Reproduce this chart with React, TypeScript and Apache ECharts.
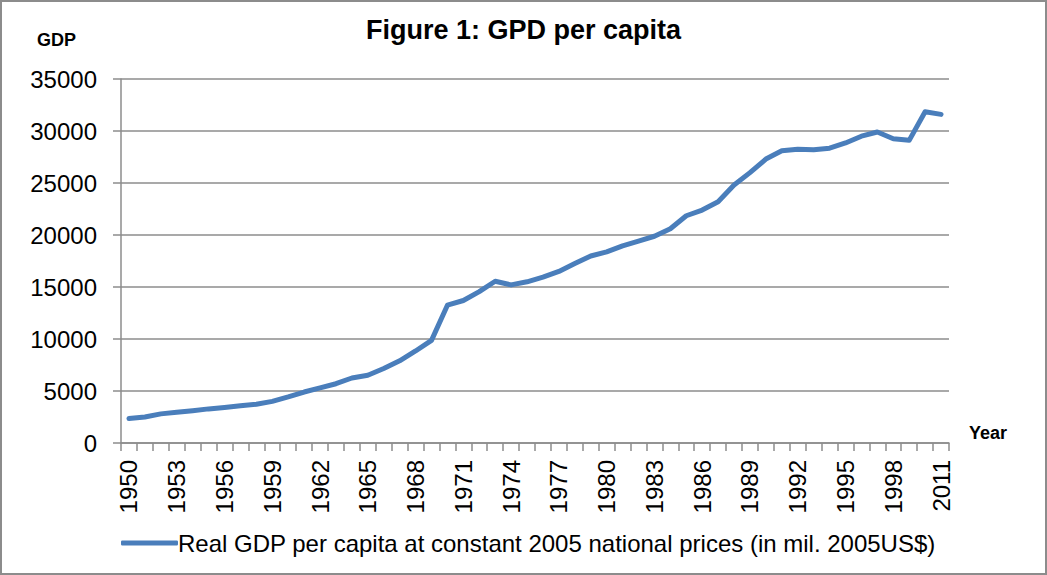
import React, { useEffect, useRef } from "react";
import * as echarts from "echarts";

const years: string[] = [
  "1950", "1951", "1952", "1953", "1954", "1955", "1956", "1957", "1958", "1959",
  "1960", "1961", "1962", "1963", "1964", "1965", "1966", "1967", "1968", "1969",
  "1970", "1971", "1972", "1973", "1974", "1975", "1976", "1977", "1978", "1979",
  "1980", "1981", "1982", "1983", "1984", "1985", "1986", "1987", "1988", "1989",
  "1990", "1991", "1992", "1993", "1994", "1995", "1996", "1997", "1998", "1999",
  "2010", "2011",
];

const gdpPerCapita: number[] = [
  2350, 2500, 2800, 2950, 3100, 3280, 3420, 3580, 3720, 4000,
  4430, 4900, 5300, 5700, 6250, 6520, 7160, 7900, 8850, 9870,
  13250, 13700, 14550, 15550, 15200, 15500, 15950, 16500, 17250, 17980,
  18380, 18950, 19420, 19880, 20600, 21850, 22400, 23200, 24800, 26000,
  27300, 28100, 28250, 28200, 28350, 28850, 29500, 29900, 29250, 29100,
  31850, 31600,
];

const seriesName = "Real GDP per capita at constant 2005 national prices (in mil. 2005US$)";
const titleText = "Figure 1: GPD per capita";
const yAxisTitle = "GDP";
const xAxisTitle = "Year";

const FONT = "'Liberation Sans', Arial, sans-serif";
const GRID_COLOR = "#8c8c8c";
const LINE_COLOR = "#4a7ebb";

export default function App() {
  const ref = useRef<HTMLDivElement>(null);

  useEffect(() => {
    document.body.style.margin = "0";
    if (!ref.current) return;
    const chart = echarts.init(ref.current, null, { renderer: "svg" });
    chart.setOption({
      animation: false,
      backgroundColor: "#ffffff",
      textStyle: { fontFamily: FONT },
      title: {
        text: titleText,
        left: "center",
        top: 11,
        textStyle: { fontFamily: FONT, fontSize: 27, fontWeight: "bold", color: "#000" },
      },
      grid: { left: 121, right: 98, top: 79, bottom: 132, containLabel: false },
      legend: {
        left: 116,
        top: 526,
        icon: "roundRect",
        itemWidth: 57,
        itemHeight: 5,
        itemGap: 4,
        textStyle: { fontFamily: FONT, fontSize: 24, color: "#000", padding: [0, 0, 0, -5] },
        data: [seriesName],
      },
      xAxis: {
        type: "category",
        data: years,
        boundaryGap: true,
        axisLine: { show: true, lineStyle: { color: GRID_COLOR, width: 1.5 } },
        axisTick: { show: true, interval: 0, length: 8, lineStyle: { color: GRID_COLOR, width: 1.5 } },
        axisLabel: {
          interval: (i: number) => i % 3 === 0,
          rotate: 90,
          margin: 17,
          fontFamily: FONT,
          fontSize: 24,
          color: "#000",
        },
        splitLine: { show: false },
      },
      yAxis: {
        type: "value",
        min: 0,
        max: 35000,
        interval: 5000,
        axisLine: { show: true, lineStyle: { color: GRID_COLOR, width: 1.5 } },
        axisTick: { show: true, length: 8, lineStyle: { color: GRID_COLOR, width: 1.5 } },
        axisLabel: {
          margin: 24,
          fontFamily: FONT,
          fontSize: 24,
          color: "#000",
          formatter: (v: number) => String(v),
        },
        splitLine: { show: true, lineStyle: { color: GRID_COLOR, width: 1.5 } },
      },
      series: [
        {
          name: seriesName,
          type: "line",
          data: gdpPerCapita,
          symbol: "none",
          color: LINE_COLOR,
          lineStyle: { color: LINE_COLOR, width: 5, cap: "round", join: "round" },
        },
      ],
      graphic: [
        {
          type: "rect",
          shape: { x: 1, y: 1, width: 1045, height: 573 },
          style: { fill: "none", stroke: "#8c8c8c", lineWidth: 2 },
          silent: true,
        },
        {
          type: "text",
          left: 37,
          top: 31,
          style: { text: yAxisTitle, fontFamily: FONT, fontSize: 18, fontWeight: "bold", fill: "#000" },
        },
        {
          type: "text",
          left: 969,
          top: 424,
          style: { text: xAxisTitle, fontFamily: FONT, fontSize: 18, fontWeight: "bold", fill: "#000" },
        },
      ],
    });
    return () => chart.dispose();
  }, []);

  return <div ref={ref} style={{ width: 1047, height: 575 }} />;
}
